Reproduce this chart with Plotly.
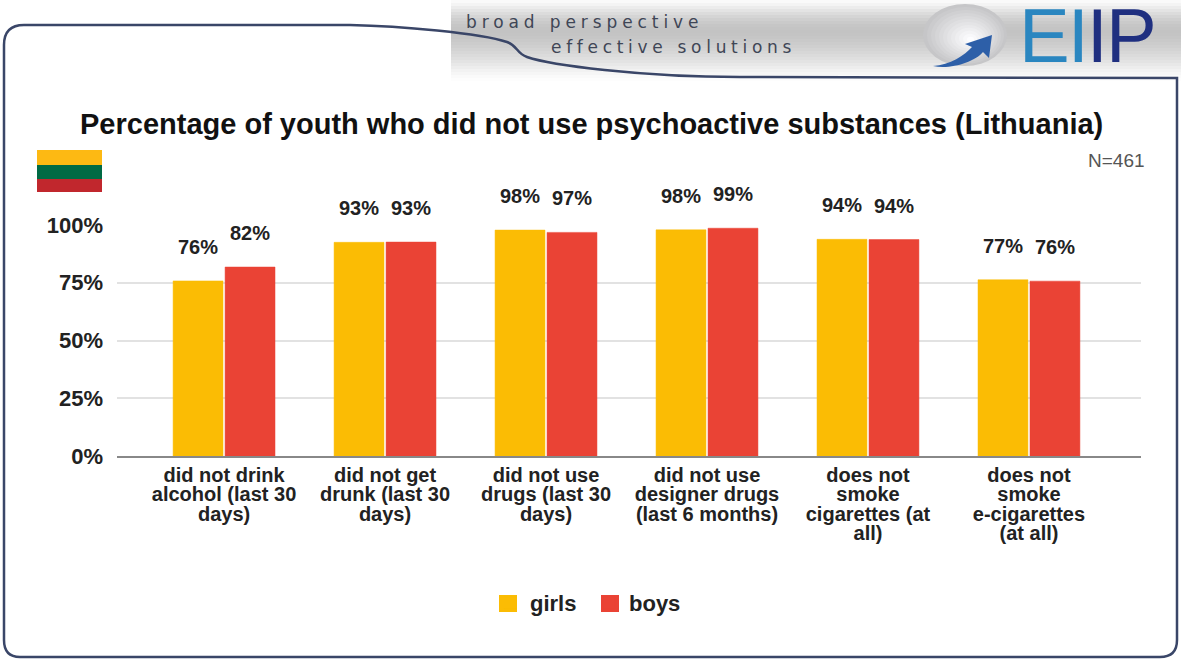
import plotly.graph_objects as go

W, H = 1181, 660
category_lines = [["did not drink", "alcohol (last 30", "days)"], ["did not get", "drunk (last 30", "days)"],
                  ["did not use", "drugs (last 30", "days)"], ["did not use", "designer drugs", "(last 6 months)"],
                  ["does not", "smoke", "cigarettes (at", "all)"], ["does not", "smoke", "e-cigarettes", "(at all)"]]
categories = ["<br>".join(f'<span style="font-size:20px">{s}</span>' for s in lines) for lines in category_lines]
girls = [75.8, 92.5, 97.8, 97.9, 93.8, 76.3]
boys = [81.8, 92.6, 96.8, 98.6, 93.7, 75.7]
girls_labels = ["76%", "93%", "98%", "98%", "94%", "77%"]
boys_labels = ["82%", "93%", "97%", "99%", "94%", "76%"]
tick_vals = [0, 25, 50, 75, 100]
tick_text = ["0%", "25%", "50%", "75%", "100%"]
TITLE = "Percentage of youth who did not use psychoactive substances (Lithuania)"
GIRLS_COLOR = "#fbbc04"
BOYS_COLOR = "#ea4335"
FRAME = "#3a4668"

L, R, T, B = 117, 40, 225, 204
PW, PH = W - L - R, H - T - B
def px(x): return (x - L) / PW
def py(y): return (H - B - y) / PH

fig = go.Figure()
fig.add_bar(name="girls", x=categories, y=girls, marker=dict(color=GIRLS_COLOR, line=dict(color=GIRLS_COLOR, width=0.5)))
fig.add_bar(name="boys", x=categories, y=boys, marker=dict(color=BOYS_COLOR, line=dict(color=BOYS_COLOR, width=0.5)))

shapes, ann = [], []
# header gradient
greys = [250, 244, 236, 228, 220, 213, 207, 202, 198, 196, 195, 196, 198, 201, 204, 207,
         211, 215, 219, 223, 227, 232, 237, 242, 246, 250, 253, 255]
for i, g in enumerate(greys):
    shapes.append(dict(type="rect", xref="paper", yref="paper", layer="below", line_width=0,
                       x0=px(451), x1=px(1181), y0=py(i * 3), y1=py((i + 1) * 3),
                       fillcolor=f"rgb({g},{g},{g})"))
# frame
P = lambda x, y: f"{px(x):.5f},{py(y):.5f}"
path = ("M" + P(4, 45) + " Q" + P(4, 25) + " " + P(24, 25) + " L" + P(350, 25) +
        " C" + P(400, 26) + " " + P(480, 33) + " " + P(507, 42) +
        " C" + P(518, 46) + " " + P(516, 53) + " " + P(527, 57) +
        " C" + P(550, 65) + " " + P(640, 77) + " " + P(740, 77) +
        " L" + P(1177, 78) + " L" + P(1177, 640) + " Q" + P(1177, 657) + " " + P(1160, 657) +
        " L" + P(20, 657) + " Q" + P(4, 657) + " " + P(4, 640) + " Z")
shapes.append(dict(type="path", xref="paper", yref="paper", path=path, layer="below",
                   line=dict(color=FRAME, width=2.5)))
# flag
for y0, y1, c in [(150, 165, "#fdb913"), (165, 179, "#006a44"), (179, 192, "#c1272d")]:
    shapes.append(dict(type="rect", xref="paper", yref="paper", line_width=0, fillcolor=c,
                       x0=px(37), x1=px(102), y0=py(y0), y1=py(y1)))
# logo sphere
n = 12
for i in range(n):
    k = 1 - i / n
    g = 198 + i * 5
    cx, cy = 965 + i * 0.5, 35 + i * 0.4
    shapes.append(dict(type="circle", xref="paper", yref="paper", line_width=0,
                       fillcolor=f"rgb({g},{g},{min(g+2,255)})",
                       x0=px(cx - 42 * k), x1=px(cx + 42 * k), y0=py(cy - 31 * k), y1=py(cy + 31 * k)))
arrow = ("M" + P(933, 66) + " C" + P(950, 65) + " " + P(965, 55) + " " + P(972, 47) +
         " L" + P(965, 44) + " L" + P(992, 35) + " L" + P(989, 58) + " L" + P(983, 52) +
         " C" + P(975, 62) + " " + P(950, 70) + " " + P(933, 66) + " Z")
shapes.append(dict(type="path", xref="paper", yref="paper", path=arrow, line_width=0, fillcolor="#2d5fa8"))
# legend swatches, behind the legend's own smaller keys
for x0, c in [(499, GIRLS_COLOR), (601, BOYS_COLOR)]:
    shapes.append(dict(type="rect", xref="paper", yref="paper", line_width=0, fillcolor=c,
                       x0=px(x0), x1=px(x0 + 18), y0=py(595), y1=py(612)))

def text(x, y, s, size, color="#222222", anchor="center", bold=False, family="Liberation Sans", ya="middle"):
    ann.append(dict(xref="paper", yref="paper", x=px(x), y=py(y), text=f"<b>{s}</b>" if bold else s,
                    showarrow=False, xanchor=anchor, yanchor=ya,
                    font=dict(size=size, color=color, family=family)))

text(464, 22, '<span style="letter-spacing:4.9px">broad perspective</span>', 17, "#3f4656", "left", family="DejaVu Sans")
text(549, 47, '<span style="letter-spacing:4.7px">effective solutions</span>', 17, "#3f4656", "left", family="DejaVu Sans")
text(1087, 35, '<span style="letter-spacing:-2px"><span style="fill:#2a86c0">EI</span>'
     '<span style="fill:#1f2f80">IP</span></span>', 76)
text(591, 124, TITLE, 29, "#111111", bold=True)
text(1147, 160, "N=461", 19, "#555555", "right")

# data labels
for i, c in enumerate(categories):
    for vals, labels, dx in ((girls, girls_labels, -26), (boys, boys_labels, 26)):
        ann.append(dict(xref="x", yref="y", x=c, y=vals[i], text=f"<b>{labels[i]}</b>", showarrow=False,
                        xshift=dx, yshift=34, yanchor="middle",
                        font=dict(size=20, color="#222222", family="Liberation Sans")))

fig.update_layout(
    width=W, height=H, autosize=False, paper_bgcolor="white", plot_bgcolor="white",
    margin=dict(l=L, r=R, t=T, b=B), barmode="group", bargap=0.354, bargroupgap=0.04,
    font=dict(family="Liberation Sans", color="#222222"),
    shapes=shapes, annotations=ann,
    legend=dict(orientation="h", xanchor="left", x=px(490), yanchor="middle", y=py(603),
                entrywidthmode="pixels", entrywidth=54,
                font=dict(size=22, color="#222222", weight="bold"), bgcolor="rgba(0,0,0,0)"),
)
fig.update_xaxes(range=[-0.665, 5.696], showgrid=False, showline=True, linecolor="#888888", linewidth=1.5,
                 ticks="outside", tickcolor="rgba(0,0,0,0)", ticklen=6,
                 tickangle=0, tickfont=dict(size=15, color="#222222", weight="bold"))
fig.update_yaxes(range=[0, 100], tickvals=tick_vals, ticktext=tick_text, gridcolor="#e2e2e2", gridwidth=1.5,
                 zeroline=False, ticklabelstandoff=13, tickfont=dict(size=22, color="#222222", weight="bold"))
fig.write_html("out.html", config=dict(displayModeBar=False), post_script="document.body.style.margin='0';")
